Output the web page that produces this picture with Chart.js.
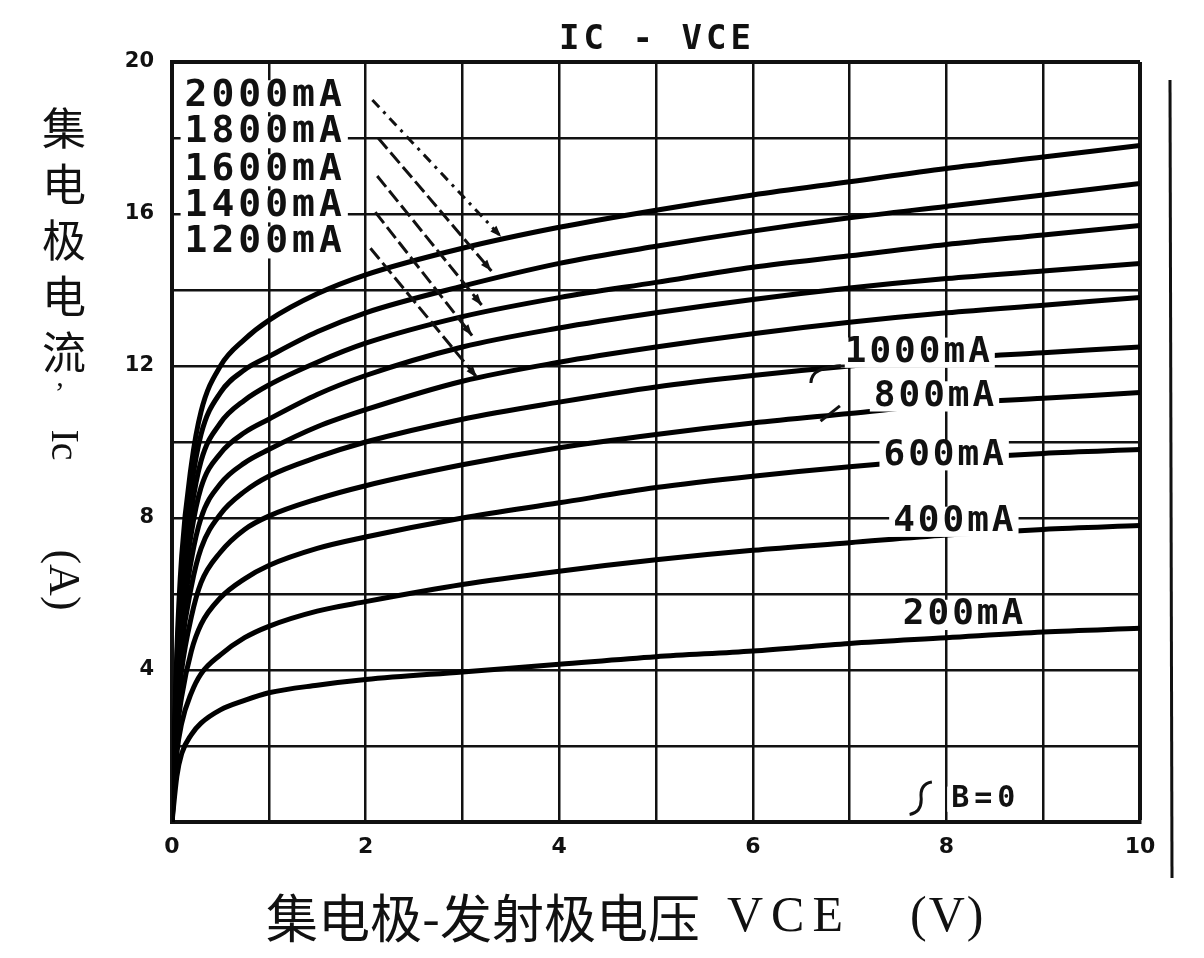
<!DOCTYPE html>
<html>
<head>
<meta charset="utf-8">
<script src="https://cdn.jsdelivr.net/npm/chart.js@4.4.0/dist/chart.umd.min.js"></script>
<style>
  html, body { margin: 0; padding: 0; background: #fff; }
  #wrap { position: relative; width: 1204px; height: 958px; }
</style>
</head>
<body>
<div id="wrap"><canvas id="icChart"></canvas></div>
<script>
// VCE sample points (V)
const vce = [0, 0.05, 0.1, 0.2, 0.3, 0.5, 0.75, 1, 1.5, 2, 3, 4, 5, 6, 7, 8, 9, 10];

// base current of each curve (mA)
const baseCurrents = [200, 400, 600, 800, 1000, 1200, 1400, 1600, 1800, 2000];

// collector current Ic (A)
const ic200  = [0, 1.2, 1.8, 2.3, 2.6, 2.95, 3.2, 3.4, 3.6, 3.75, 3.95, 4.15, 4.35, 4.5, 4.7, 4.85, 5.0, 5.1];
const ic400  = [0, 1.8, 2.6, 3.4, 3.9, 4.4, 4.85, 5.15, 5.55, 5.8, 6.25, 6.6, 6.9, 7.15, 7.35, 7.55, 7.7, 7.8];
const ic600  = [0, 2.3, 3.3, 4.5, 5.2, 5.9, 6.4, 6.75, 7.2, 7.5, 8.0, 8.4, 8.8, 9.1, 9.35, 9.55, 9.7, 9.8];
const ic800  = [0, 2.7, 4.0, 5.4, 6.3, 7.1, 7.7, 8.05, 8.5, 8.85, 9.4, 9.85, 10.2, 10.5, 10.75, 11.0, 11.15, 11.3];
const ic1000 = [0, 3.0, 4.6, 6.2, 7.2, 8.1, 8.7, 9.1, 9.6, 10.0, 10.6, 11.05, 11.45, 11.75, 12.0, 12.2, 12.35, 12.5];
const ic1200 = [0, 3.3, 5.1, 6.9, 8.0, 8.9, 9.45, 9.8, 10.4, 10.85, 11.6, 12.1, 12.5, 12.85, 13.15, 13.4, 13.6, 13.8];
const ic1400 = [0, 3.6, 5.6, 7.6, 8.8, 9.7, 10.25, 10.6, 11.25, 11.75, 12.5, 13.0, 13.4, 13.75, 14.05, 14.3, 14.5, 14.7];
const ic1600 = [0, 3.9, 6.0, 8.2, 9.5, 10.5, 11.1, 11.5, 12.1, 12.6, 13.3, 13.8, 14.2, 14.6, 14.9, 15.2, 15.45, 15.7];
const ic1800 = [0, 4.2, 6.5, 8.8, 10.2, 11.3, 11.9, 12.25, 12.9, 13.4, 14.1, 14.7, 15.15, 15.55, 15.9, 16.2, 16.5, 16.8];
const ic2000 = [0, 4.5, 7.0, 9.4, 10.8, 12.0, 12.7, 13.2, 13.9, 14.4, 15.1, 15.65, 16.1, 16.5, 16.85, 17.2, 17.5, 17.8];

const curves = [ic200, ic400, ic600, ic800, ic1000, ic1200, ic1400, ic1600, ic1800, ic2000];

// axis ticks
const xLabelTicks = [0, 2, 4, 6, 8, 10];
const yLabelTicks = [4, 8, 12, 16, 20];

const datasets = curves.map((ic, i) => ({
  label: baseCurrents[i] + 'mA',
  data: vce.map((v, j) => ({ x: v, y: ic[j] })),
  borderColor: '#000',
  borderWidth: 5,
  pointRadius: 0,
  cubicInterpolationMode: 'monotone',
  fill: false
}));

const INK = '#111';

// text labels and leader lines drawn on top of the chart
const overlay = {
  id: 'overlay',
  afterDraw(chart) {
    const ctx = chart.ctx;
    const xs = chart.scales.x, ys = chart.scales.y;
    const px = v => xs.getPixelForValue(v);
    const py = v => ys.getPixelForValue(v);
    ctx.save();
    ctx.fillStyle = INK;
    ctx.strokeStyle = INK;

    function label(text, v, i, size, spacing, bg) {
      ctx.font = 'bold ' + size + 'px "DejaVu Sans Mono"';
      ctx.letterSpacing = spacing + 'px';
      const w = ctx.measureText(text).width;
      const x = px(v), y = py(i);
      if (bg) {
        ctx.fillStyle = '#fff';
        ctx.fillRect(x - 4, y - size * 0.42, w + 6, size * 0.84);
        ctx.fillStyle = INK;
      }
      ctx.textAlign = 'left';
      ctx.textBaseline = 'middle';
      ctx.fillText(text, x, y);
      return x + w;
    }

    function leader(x1, y1, x2, y2, dash) {
      ctx.beginPath();
      ctx.setLineDash(dash);
      ctx.lineWidth = 3;
      ctx.moveTo(px(x1), py(y1));
      ctx.lineTo(px(x2), py(y2));
      ctx.stroke();
      ctx.setLineDash([]);
      // small arrow head
      const a = Math.atan2(py(y2) - py(y1), px(x2) - px(x1));
      ctx.beginPath();
      ctx.moveTo(px(x2), py(y2));
      ctx.lineTo(px(x2) - 12 * Math.cos(a - 0.35), py(y2) - 12 * Math.sin(a - 0.35));
      ctx.lineTo(px(x2) - 12 * Math.cos(a + 0.35), py(y2) - 12 * Math.sin(a + 0.35));
      ctx.closePath();
      ctx.fill();
    }

    // upper-left labels
    label('2000mA', 0.13, 19.1, 38, 4, true);
    label('1800mA', 0.13, 18.15, 38, 4, true);
    label('1600mA', 0.13, 17.15, 38, 4, true);
    label('1400mA', 0.13, 16.2, 38, 4, true);
    label('1200mA', 0.13, 15.25, 38, 4, true);
    leader(2.07, 19.0, 3.4, 15.4, [10, 6, 3, 6]);
    leader(2.13, 18.0, 3.3, 14.5, [14, 5]);
    leader(2.12, 17.0, 3.2, 13.6, [14, 5]);
    leader(2.1, 16.05, 3.1, 12.8, [14, 5]);
    leader(2.05, 15.1, 3.15, 11.7, [14, 5]);

    // right-hand labels
    label('1000mA', 6.95, 12.35, 36, 3, true);
    label('800mA', 7.25, 11.2, 36, 3, true);
    label('600mA', 7.35, 9.65, 36, 3, true);
    label('400mA', 7.45, 7.9, 36, 3, true);
    label('200mA', 7.55, 5.45, 36, 3, true);
    label('B=0', 8.05, 0.6, 30, 5, true);

    // little hooks next to 1000mA / 800mA and the B=0 brace
    ctx.lineWidth = 3;
    ctx.beginPath();
    ctx.moveTo(px(6.95), py(12.0));
    ctx.quadraticCurveTo(px(6.6), py(12.0), px(6.6), py(11.55));
    ctx.stroke();
    ctx.beginPath();
    ctx.moveTo(px(6.9), py(10.95));
    ctx.lineTo(px(6.7), py(10.55));
    ctx.stroke();
    ctx.beginPath();
    ctx.moveTo(px(7.85), py(1.05));
    ctx.quadraticCurveTo(px(7.72), py(1.0), px(7.74), py(0.6));
    ctx.quadraticCurveTo(px(7.74), py(0.25), px(7.62), py(0.2));
    ctx.stroke();

    // chart title
    ctx.font = 'bold 34px "DejaVu Sans Mono"';
    ctx.letterSpacing = '4px';
    ctx.textAlign = 'center';
    ctx.textBaseline = 'middle';
    ctx.fillText('IC - VCE', 657, 40);

    // y-axis title, stacked vertically
    ctx.letterSpacing = '0px';
    ctx.font = '44px "Noto Sans CJK SC"';
    const yChars = ['集', '电', '极', '电', '流'];
    yChars.forEach((c, k) => ctx.fillText(c, 64, 128 + k * 56));
    ctx.font = '30px "Liberation Serif"';
    ctx.fillText(',', 60, 378);
    ctx.save();
    ctx.translate(62, 445);
    ctx.rotate(Math.PI / 2);
    ctx.font = '40px "Liberation Serif"';
    ctx.fillText('Ic', 0, 0);
    ctx.restore();
    ctx.save();
    ctx.translate(62, 580);
    ctx.rotate(Math.PI / 2);
    ctx.font = '44px "Liberation Serif"';
    ctx.fillText('(A)', 0, 0);
    ctx.restore();

    // x-axis title
    ctx.textAlign = 'left';
    ctx.font = '52px "Noto Sans CJK SC"';
    ctx.fillText('集电极-发射极电压', 266, 918);
    ctx.font = '50px "Liberation Serif"';
    ctx.letterSpacing = '8px';
    ctx.fillText('VCE', 727, 918);
    ctx.letterSpacing = '2px';
    ctx.fillText('(V)', 910, 918);

    // edge marks of the scan
    ctx.lineWidth = 3;
    ctx.beginPath();
    ctx.moveTo(1170, 80);
    ctx.lineTo(1172, 878);
    ctx.stroke();
    ctx.restore();
  }
};

new Chart(document.getElementById('icChart').getContext('2d'), {
  type: 'line',
  data: { datasets: datasets },
  options: {
    responsive: true,
    maintainAspectRatio: false,
    animation: false,
    layout: { padding: { left: 0, right: 64, top: 62, bottom: 0 } },
    plugins: {
      legend: { display: false },
      tooltip: { enabled: false }
    },
    scales: {
      x: {
        type: 'linear',
        min: 0,
        max: 10,
        afterFit: s => { s.height = 136; },
        ticks: {
          stepSize: 1,
          padding: 12,
          color: INK,
          font: { family: 'DejaVu Sans', size: 22, weight: 'bold' },
          callback: v => xLabelTicks.includes(v) ? v : ''
        },
        grid: {
          color: INK,
          lineWidth: c => (c.tick && c.tick.value === 10) ? 4 : 2.5,
          drawTicks: false
        },
        border: { color: INK, width: 4 }
      },
      y: {
        min: 0,
        max: 20,
        afterFit: s => { s.width = 172; },
        ticks: {
          stepSize: 2,
          padding: 18,
          color: INK,
          font: { family: 'DejaVu Sans', size: 21, weight: 'bold' },
          callback: v => yLabelTicks.includes(v) ? v : ''
        },
        grid: {
          color: INK,
          lineWidth: c => (c.tick && c.tick.value === 20) ? 4 : 2.5,
          drawTicks: false
        },
        border: { color: INK, width: 4 }
      }
    }
  },
  plugins: [overlay]
});
</script>
</body>
</html>
